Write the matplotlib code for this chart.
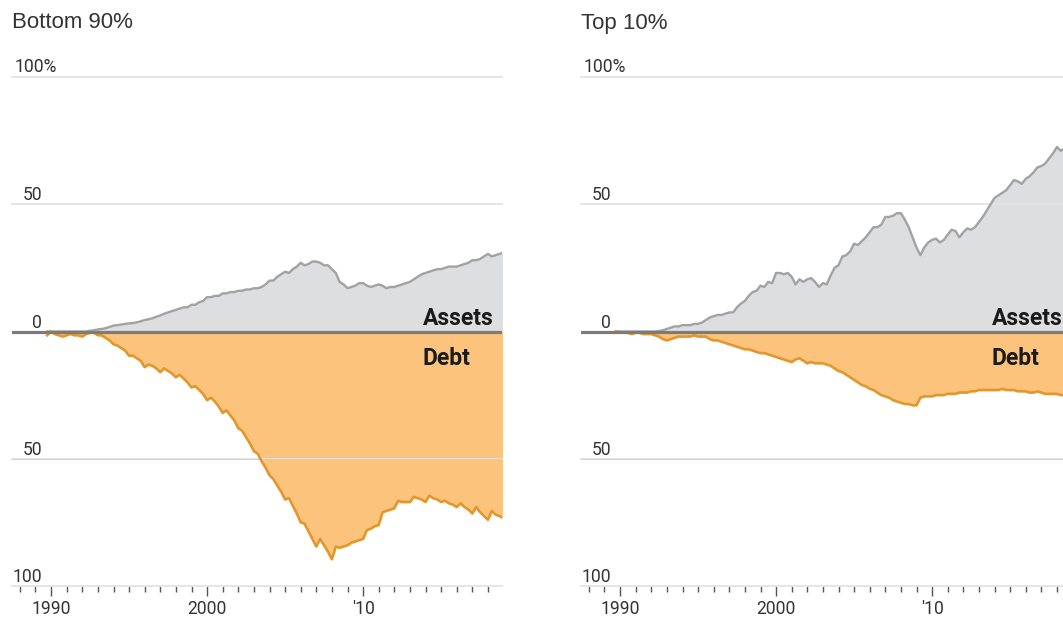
import numpy as np
import pandas as pd
import matplotlib
matplotlib.use("Agg")
import matplotlib.pyplot as plt
import matplotlib.dates as mdates
from matplotlib import font_manager
from matplotlib.transforms import blended_transform_factory
from matplotlib.ticker import FuncFormatter

# ---------------- data (quarterly, 1989Q3 .. 2018Q4) ----------------
try:
    quarters = pd.date_range("1989-09-30", "2018-12-31", freq="QE")
except Exception:
    quarters = pd.date_range("1989-09-30", "2018-12-31", freq="Q")

panel_titles = ["Bottom 90%", "Top 10%"]

bottom90_assets = [
    0, 0,
    0, 0, 0, 0,
    0, 0, 0, 0,
    0, 0.3, 0.5, 0.8,
    1, 1.3, 1.8, 2.3,
    2.5, 2.7, 3, 3.2,
    3.3, 3.6, 4, 4.5,
    4.8, 5.2, 5.8, 6.3,
    7, 7.5, 8, 8.5,
    9, 9.5, 9.5, 10.5,
    10.5, 11.5, 12, 13.5,
    13.5, 14, 14, 15,
    15, 15.5, 15.5, 16,
    16, 16.5, 16.5, 17,
    17, 17.5, 18.5, 20,
    20, 21.5, 22.5, 23.5,
    23, 24.5, 25.5, 27,
    26, 26.5, 27.5, 27.5,
    27, 26, 26, 24.5,
    23, 19.5, 18.5, 17,
    17.5, 18, 19, 19,
    18, 17.5, 18, 18.5,
    18, 17, 17.5, 17.5,
    18, 18.5, 19, 19.5,
    20.5, 21.5, 22.5, 23,
    23.5, 24, 24.5, 24.5,
    25, 25.5, 25.5, 25.5,
    26, 26.5, 27, 28,
    28, 28.5, 29.5, 30.5,
    29.5, 30, 30.5, 31,
]

bottom90_debt = [
    1.5, 0,
    1, 1.5, 2, 1.5,
    1, 1.5, 1.5, 2,
    1, 0.5, 0.5, 1.5,
    1.5, 2.5, 3.5, 5,
    5.5, 6.5, 7.5, 9.5,
    9.5, 10.5, 11.5, 14,
    13, 13.5, 14.5, 16,
    14.5, 15.5, 16.5, 18,
    17, 18.5, 20, 22,
    21.5, 23, 24.5, 27,
    26, 27.5, 29.5, 32,
    31, 33, 35, 38,
    39, 41.5, 44, 47,
    48, 51, 53.5, 56.5,
    58, 60.5, 63, 66,
    65.5, 68.5, 71.5, 75,
    75.5, 78.5, 81.5, 84.5,
    81.5, 84, 86.5, 89.5,
    84.5, 85, 84.5, 84,
    83, 82.5, 82, 81.5,
    78, 77.5, 76.5, 76,
    71, 70.5, 70, 69.5,
    66.5, 67, 67, 67,
    65, 65.5, 66, 67,
    64.5, 65.5, 66, 67,
    66.5, 67.5, 68, 69,
    67.5, 69, 70, 71.5,
    69, 71, 72.5, 74,
    70.5, 72, 72.5, 73.5,
]

top10_assets = [
    0, 0,
    0, 0, 0, 0,
    0, 0, 0, 0,
    0, 0.2, 0.5, 1,
    1.5, 2, 2, 2.5,
    2.5, 2.5, 3, 3,
    3.5, 4.5, 5.5, 6,
    6.5, 6.5, 7, 7.5,
    7.5, 9.5, 11, 12,
    14, 15.5, 16, 18,
    17.5, 19.5, 19, 23,
    23, 22.5, 23, 21.5,
    18.5, 20.5, 19.5, 20.5,
    21, 19.5, 17.5, 19,
    18.5, 22, 25, 26,
    29.5, 30, 31.5, 34.5,
    34, 35.5, 37, 39,
    41, 41, 42, 45,
    45, 45.5, 46.5, 46.5,
    44, 41, 37, 33,
    30, 33, 35, 36,
    36.5, 35, 36, 38,
    40, 39.5, 37, 39,
    40.5, 40, 41, 43,
    45, 47.5, 50, 52.5,
    53.5, 54.5, 55.5, 57.5,
    59.5, 59, 58, 60,
    61, 62.5, 64.5, 65,
    66, 68, 70, 72.5,
    71, 72, 72.5, 74,
]

top10_debt = [
    0, 0.3,
    0.5, 0.5, 1, 0.5,
    0.5, 1, 1, 1,
    1.5, 2, 3, 3.5,
    3, 2.5, 2, 2,
    2, 2, 1.5, 2,
    2, 2, 3, 3.5,
    3.5, 4, 4.5, 5,
    5.5, 6, 6.5, 7,
    7, 7.5, 8, 8.5,
    8.5, 9, 9.5, 10,
    10.5, 11, 11.5, 12,
    11, 10.5, 11.5, 12.5,
    12, 12.5, 12.5, 12.5,
    13, 13.5, 14.5, 15.5,
    16, 17, 18, 19,
    20, 21, 21.5, 22.5,
    23, 24, 25, 25.5,
    26, 27, 27.5, 28,
    28.5, 28.5, 29, 29,
    26, 25.5, 25.5, 25.5,
    25, 25, 25, 24.5,
    24.5, 24.5, 24, 24,
    24, 23.5, 23.5, 23,
    23, 23, 23, 23,
    23, 22.5, 23, 23,
    23, 23.5, 23.5, 23.5,
    24, 24, 23.5, 24,
    24.5, 24.5, 24.5, 24.5,
    25, 25, 25, 25,
]

grid_values = [100, 50, -50, -100]
ytick_values = [100, 50, 0, -50, -100]
ytick_labels = ["100%", "50", "0", "50", "100"]

# ---------------- styling ----------------
names = {f.name for f in font_manager.fontManager.ttflist}
if "Liberation Sans Narrow" in names:
    NARROW, nscale = "Liberation Sans Narrow", 1.0
else:
    NARROW, nscale = "Roboto", 0.89
REGULAR = "Liberation Sans" if "Liberation Sans" in names else "DejaVu Sans"

GREY_FILL = "#dddee0"
GREY_LINE = "#a2a2a2"
ORANGE_FILL = "#fbc37c"
ORANGE_LINE = "#e5962a"
GRID = "#e3e3e3"
ZERO = "#7b7b7b"
TXT = "#333333"

W, H = 1063, 619
fig = plt.figure(figsize=(W / 100, H / 100), dpi=100)
fig.patch.set_facecolor("white")

ax_bottom_px = 586
ax_top_px = 77
ax_w_px = 490
panel_left_px = [12, 581]

series = [(bottom90_assets, bottom90_debt), (top10_assets, top10_debt)]

xmin = pd.Timestamp("1987-07-01")
xmax = pd.Timestamp("2018-11-25")

TICK_FS = 14.2 * nscale
LABEL_FS = 18.5 * nscale

for left_px, title, (assets, debt) in zip(panel_left_px, panel_titles, series):
    ax = fig.add_axes([left_px / W, (H - ax_bottom_px) / H,
                       ax_w_px / W, (ax_bottom_px - ax_top_px) / H])
    ax.set_facecolor("none")
    a = np.array(assets, dtype=float)
    d = -np.array(debt, dtype=float)

    ax.fill_between(quarters, 0, a, color=GREY_FILL, lw=0, zorder=1)
    ax.fill_between(quarters, 0, d, color=ORANGE_FILL, lw=0, zorder=1)
    for v in grid_values:
        ax.axhline(v, color=GRID, lw=1.3, zorder=2, clip_on=False)
    ax.axhline(-50, color="#e0a860", lw=0.8, zorder=2, alpha=0.35)
    ax.plot(quarters, a, color=GREY_LINE, lw=1.7, zorder=3,
            solid_joinstyle="round")
    ax.plot(quarters, d, color=ORANGE_LINE, lw=1.9, zorder=3,
            solid_joinstyle="round")
    ax.axhline(0, color=ZERO, lw=2.3, zorder=4)

    ax.set_xlim(xmin, xmax)
    ax.set_ylim(-100, 100)
    for s in ax.spines.values():
        s.set_visible(False)
    ax.set_yticks([])

    ax.xaxis.set_major_locator(mdates.YearLocator(10))
    ax.xaxis.set_minor_locator(mdates.YearLocator(1))

    def fmt(x, pos):
        y = mdates.num2date(x).year
        return str(y) if y < 2010 else "'" + str(y)[2:]

    ax.xaxis.set_major_formatter(FuncFormatter(fmt))
    ax.tick_params(axis="x", which="major", length=7, width=1.0,
                   color="#555555", pad=3, labelsize=TICK_FS,
                   labelcolor=TXT)
    ax.tick_params(axis="x", which="minor", length=4, width=1.0,
                   color="#555555")
    for lab in ax.get_xticklabels():
        lab.set_fontfamily(NARROW)

    tr = blended_transform_factory(ax.transAxes, ax.transData)
    for v, lab in zip(ytick_values, ytick_labels):
        if lab.endswith("%"):
            ax.text(0.006, v + 1.8, lab, transform=tr, ha="left",
                    va="baseline", fontsize=TICK_FS, color=TXT,
                    family=NARROW, clip_on=False)
        else:
            ax.text(0.0612, v + 1.5, lab, transform=tr, ha="right",
                    va="baseline", fontsize=TICK_FS, color=TXT,
                    family=NARROW, clip_on=False)

    ax.text(0.838, 2.6, "Assets", transform=tr, ha="left", va="baseline",
            fontsize=LABEL_FS, fontweight="bold", color="#1a1a1a",
            family=NARROW, zorder=5)
    ax.text(0.838, -13.0, "Debt", transform=tr, ha="left", va="baseline",
            fontsize=LABEL_FS, fontweight="bold", color="#1a1a1a",
            family=NARROW, zorder=5)

    fig.text(left_px / W, 1 - 23 / H, title, ha="left", va="center",
             fontsize=16, color=TXT, family=REGULAR)

fig.savefig("out.png", dpi=100, facecolor="white")
